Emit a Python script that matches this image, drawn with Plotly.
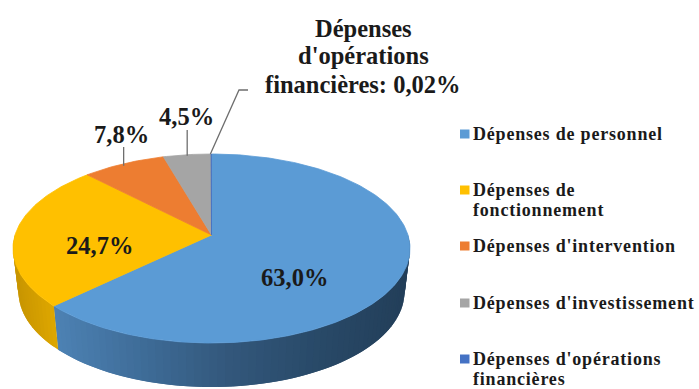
import math
import plotly.graph_objects as go

# Data
categories = ["Dépenses de personnel", "Dépenses de fonctionnement", "Dépenses d'intervention",
              "Dépenses d'investissement", "Dépenses d'opérations financières"]
legend_lines = [["Dépenses de personnel"], ["Dépenses de", "fonctionnement"], ["Dépenses d'intervention"],
                ["Dépenses d'investissement"], ["Dépenses d'opérations", "financières"]]
values = [63.0, 24.7, 7.8, 4.5, 0.02]
value_labels = ["63,0%", "24,7%", "7,8%", "4,5%"]
callout_lines = ["Dépenses", "d'opérations", "financières: 0,02%"]
colors = ["#5B9BD5", "#FFC000", "#ED7D31", "#A5A5A5", "#4472C4"]

# Pseudo-3D projection (pixel space)
CX, CY, A, B = 211.5, 248.5, 198.5, 94.5     # top ellipse
APEX_Y = 235                                  # projected pie centre
CY2, A2, B2 = 292, 193, 95                    # bottom ellipse of the rim
TILT = 8                                      # foreshortening in degrees
FONT = "Liberation Serif"
TEXT = "#1A1A1A"


def warp(t):
    return t - TILT * math.sin(math.radians(t))


def top(t):
    p = math.radians(warp(t))
    return CX + A * math.sin(p), CY - B * math.cos(p)


def bottom(t):
    p = math.radians(warp(t))
    return CX + A2 * math.sin(p), CY2 - B2 * math.cos(p)


def lerp_hex(stops, f):
    for (f0, c0), (f1, c1) in zip(stops, stops[1:]):
        if f <= f1:
            k = (f - f0) / (f1 - f0)
            rgb = [round(int(c0[i:i + 2], 16) * (1 - k) + int(c1[i:i + 2], 16) * k) for i in (1, 3, 5)]
            return "rgb(%d,%d,%d)" % tuple(rgb)
    return stops[-1][1]


side_stops = {
    0: [(0.0, "#4D82B4"), (0.25, "#3F6D99"), (0.5, "#33587C"), (0.75, "#294A69"), (1.0, "#233F5A")],
    1: [(0.0, "#C99600"), (1.0, "#DDA600")],
}

total = sum(values)
edges = [0.0]
for v in values:
    edges.append(edges[-1] + v / total * 360)

fig = go.Figure()


def poly(xs, ys, color, lw=0.8):
    fig.add_trace(go.Scatter(x=xs, y=ys, mode="lines", fill="toself", fillcolor=color,
                             line=dict(color=color, width=lw), hoverinfo="skip", showlegend=False))


# Rim: only the lower half of the ellipse is visible; overlapping strips avoid seams
for i in range(2):
    t0, t1 = max(edges[i], 90), min(edges[i + 1], 270)
    n = max(2, int((t1 - t0) / 2))
    for k in range(n):
        a0 = t0 + (t1 - t0) * k / n
        a1 = min(t1, t0 + (t1 - t0) * (k + 2) / n)
        pts_t = [top(a0 + (a1 - a0) * j / 6) for j in range(7)]
        pts_b = [bottom(a1 - (a1 - a0) * j / 6) for j in range(7)]
        xs = [p[0] for p in pts_t + pts_b]
        ys = [p[1] for p in pts_t + pts_b]
        xm = top(a0)[0]
        lo, hi = (55, 405) if i == 0 else (18, 55)
        f = min(1, max(0, (xm - lo) / (hi - lo)))
        poly(xs, ys, lerp_hex(side_stops[i], f), lw=0)

# Top face
for i, c in enumerate(colors):
    t0, t1 = edges[i], edges[i + 1]
    n = max(2, int((t1 - t0) / 1.0))
    rim = [top(t0 + (t1 - t0) * k / n) for k in range(n + 1)]
    xs = [CX] + [p[0] for p in rim] + [CX]
    ys = [APEX_Y] + [p[1] for p in rim] + [APEX_Y]
    poly(xs, ys, c)

# Leader lines
mid = [(edges[i] + edges[i + 1]) / 2 for i in range(len(values))]
leader_col = "#6E6E6E"
x2, y2 = top(mid[2])
x3, y3 = top(mid[3])
x4, y4 = top(mid[4])
for xs, ys in ([[x2, x2], [y2 + 2, 147]], [[x3, x3], [y3 + 1, 130]], [[x4 - 1, 239, 248], [y4, 90, 90]]):
    fig.add_trace(go.Scatter(x=xs, y=ys, mode="lines", line=dict(color=leader_col, width=1.3),
                             hoverinfo="skip", showlegend=False))


def text(x, y, txt, size, anchor="center"):
    return dict(x=x, y=y, xref="x", yref="y", text="<b>%s</b>" % txt, showarrow=False,
                xanchor=anchor, yanchor="middle", align=anchor,
                font=dict(family=FONT, size=size, color=TEXT))


annos = []
# Value labels
label_pos = [(294, 277), (99, 245), (121, 134.5), (186.5, 116)]
for (x, y), txt in zip(label_pos, value_labels):
    annos.append(text(x, y, txt, 24.5))
for y, line in zip([28, 55, 84], callout_lines):
    annos.append(text(363, y, line, 24.5))
n_value_annos = len(annos)

# Legend
legend_y = [134, 190, 246, 303, 359]
shapes = []
for y, c, lines in zip(legend_y, colors, legend_lines):
    shapes.append(dict(type="rect", xref="x", yref="y", x0=460, x1=469.5, y0=y - 4.5, y1=y + 4.5,
                       fillcolor=c, line_width=0))
    for j, line in enumerate(lines):
        annos.append(text(471, y + 20 * j, line, 18, anchor="left"))

fig.update_layout(
    width=699, height=389, margin=dict(l=0, r=0, t=0, b=0), autosize=False,
    paper_bgcolor="white", plot_bgcolor="white", showlegend=False,
    xaxis=dict(range=[0, 699], visible=False, fixedrange=True),
    yaxis=dict(range=[389, 0], visible=False, fixedrange=True),
    annotations=annos, shapes=shapes,
)
post = """
document.body.style.margin='0';document.body.style.overflow='hidden';
document.querySelectorAll('.annotation').forEach(function(a){
  if (+a.getAttribute('data-index') >= %d) {
    a.querySelectorAll('text').forEach(function(t){t.style.letterSpacing='0.8px';});
  }
});
""" % n_value_annos
fig.write_html("out.html", config={"displayModeBar": False}, post_script=post)
